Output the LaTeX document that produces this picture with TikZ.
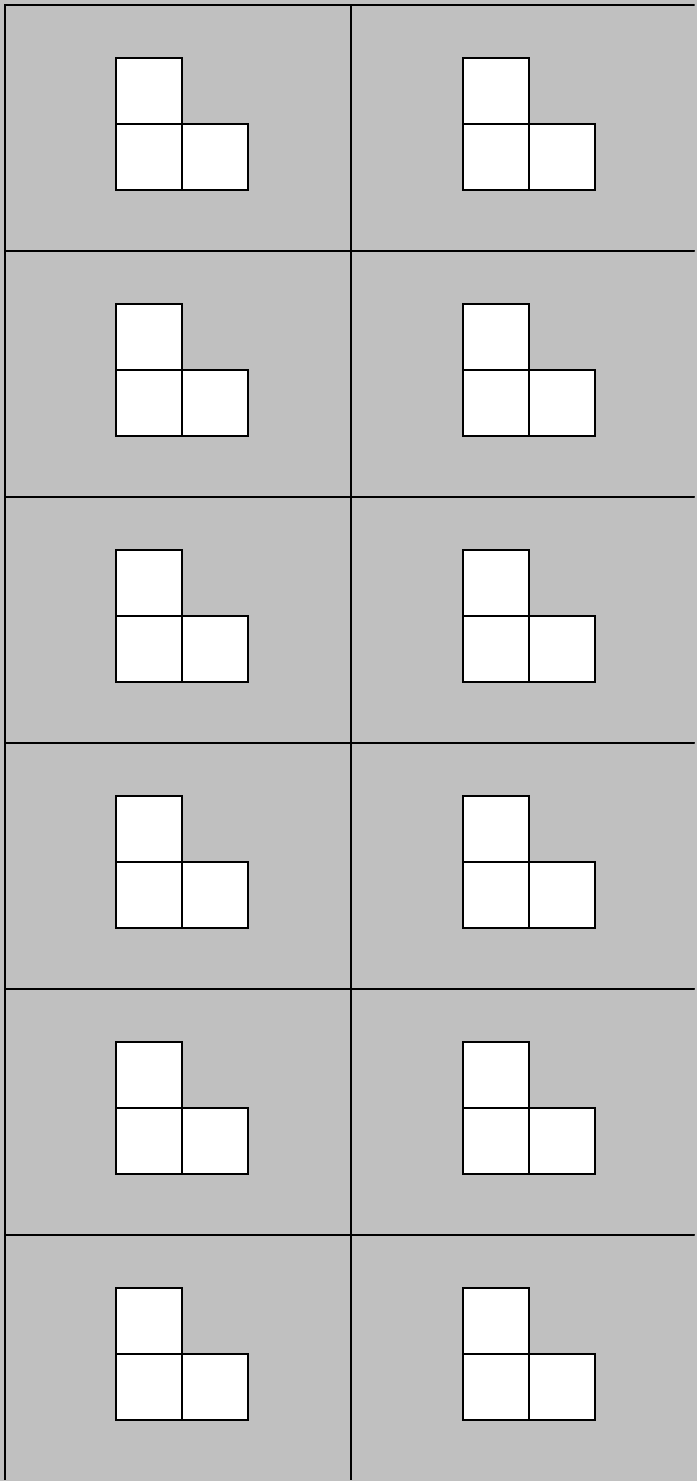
\documentclass[tikz,border=0pt]{standalone}
\definecolor{cellgray}{RGB}{192,192,192}
\begin{document}
\begin{tikzpicture}[x=0.02cm,y=-0.02cm,
  cellbox/.style={draw=black, fill=cellgray, line width=1.1pt, minimum width=6.92cm, minimum height=4.92cm, inner sep=0pt, outer sep=0pt, anchor=north west},
  sq/.style={draw=black, fill=white, line width=1.1pt, minimum size=1.32cm, inner sep=0pt, outer sep=0pt, anchor=north west}]
\useasboundingbox (0,0) rectangle (697,1481);
\fill[cellgray] (0,0) rectangle (697,1481);
\clip (0,0) rectangle (694.5,1479);
\foreach \c in {0,1} {
  \foreach \r in {0,...,5} {
    \node[cellbox] (cell-\c-\r) at ({5+346*\c},{5+246*\r}) {};
    \node[sq] (top-\c-\r) at ({5+347*\c+111},{5+246*\r+53}) {};
    \node[sq] (bl-\c-\r) at ({5+347*\c+111},{5+246*\r+119}) {};
    \node[sq] (br-\c-\r) at ({5+347*\c+177},{5+246*\r+119}) {};
  }
}
\end{tikzpicture}
\end{document}
